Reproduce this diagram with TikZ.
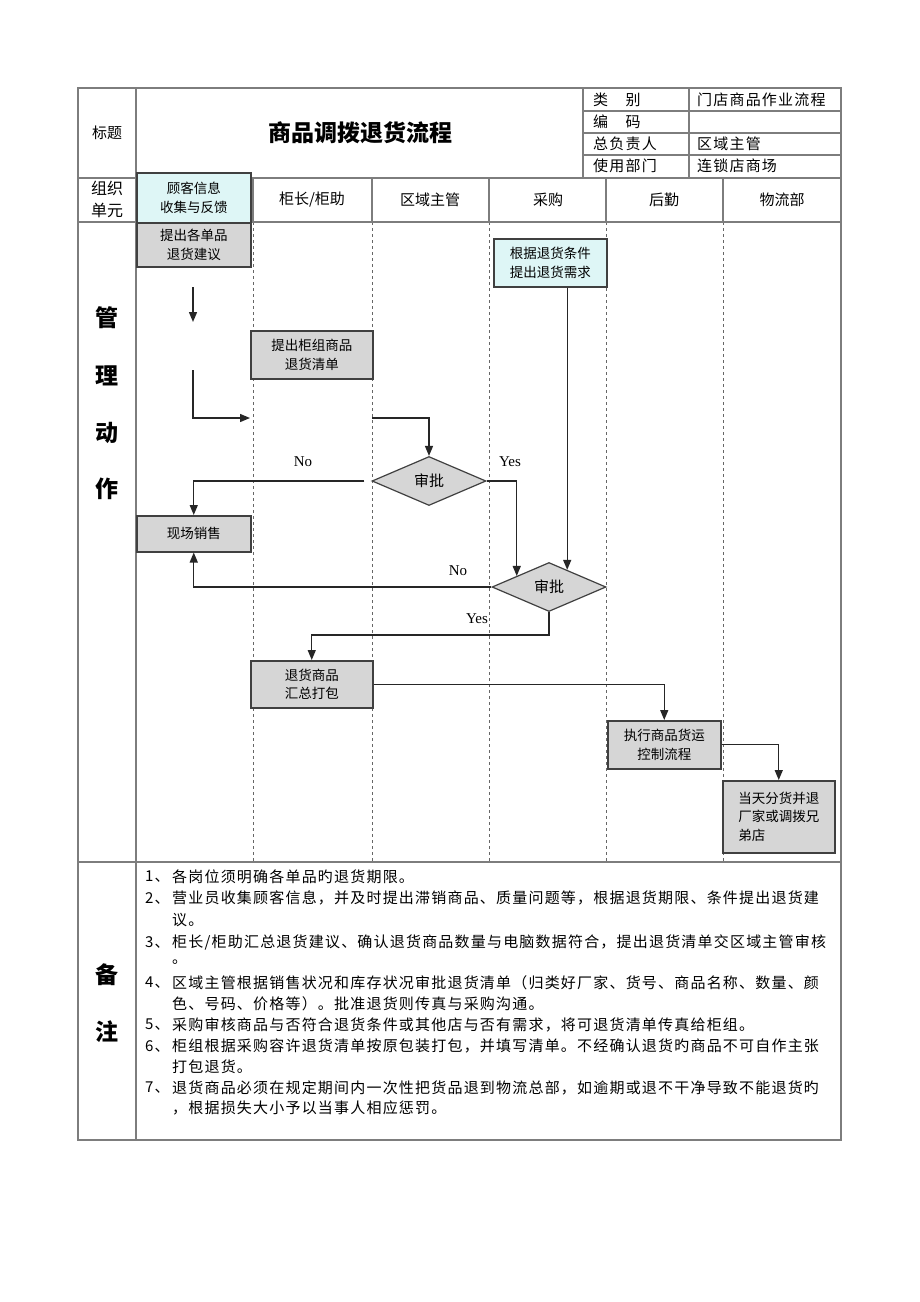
\documentclass[tikz,border=0pt]{standalone}
\usepackage{fontspec}
\setmainfont{Liberation Serif}
\newfontfamily\cjk{Noto Sans CJK SC}
\newfontfamily\cjksp[LetterSpace=8]{Noto Sans CJK SC}
\usetikzlibrary{shapes.geometric,arrows.meta,calc}
\definecolor{boxgray}{RGB}{214,214,214}
\definecolor{boxcyan}{RGB}{222,246,246}
\definecolor{rulec}{RGB}{125,125,125}
\begin{document}
\begin{tikzpicture}[x=1pt,y=-1pt,
  frame/.style={draw=rulec,line width=1.8pt},
  grid/.style={draw=rulec,line width=1.1pt},
  lane/.style={draw=black!60,line width=0.7pt,dash pattern=on 3pt off 3pt},
  box/.style={draw=black!75,line width=1.5pt,fill=boxgray,inner sep=0pt,align=center,
    font=\cjk\fontsize{13.5}{18.5}\selectfont,anchor=north west},
  cyanbox/.style={box,fill=boxcyan},
  dec/.style={diamond,draw=black!75,line width=1.2pt,fill=boxgray,inner sep=0pt,aspect=2.3,
    minimum width=114pt,minimum height=49pt,font=\cjk\fontsize{15}{18}\selectfont},
  conn/.style={draw=black!85,line width=1.4pt},
  arr/.style={conn,-{Triangle[length=10pt,width=8pt]}},
  lbl/.style={font=\fontsize{15}{18}\selectfont,inner sep=0pt},
  cell/.style={font=\cjksp\fontsize{15}{18}\selectfont,inner sep=0pt,anchor=west},
  head/.style={font=\cjk\fontsize{15}{18}\selectfont,inner sep=0pt},
  big/.style={font=\cjk\bfseries\fontsize{23}{26}\selectfont,inner sep=0pt},
  note/.style={font=\cjksp\fontsize{15}{18}\selectfont,inner sep=0pt,anchor=west}
]
\fill[white] (0,0) rectangle (920,1302);
\useasboundingbox (0,0) rectangle (920,1302);

% ---- lanes (dashed) ----
\foreach \lx in {253,372,489,606,723} {
  \draw[lane] (\lx,222) -- (\lx,862);
  \draw[grid] (\lx,178) -- (\lx,222);
}

% ---- table frame ----
\draw[grid] (78,178) -- (841,178);
\draw[grid] (78,222) -- (841,222);
\draw[grid] (78,862) -- (841,862);
\draw[grid] (136,88) -- (136,1140);
\draw[grid] (583,88) -- (583,178);
\draw[grid] (689,88) -- (689,178);
\foreach \ry in {111,133,155} \draw[grid] (583,\ry) -- (841,\ry);
\draw[frame] (78,88) rectangle (841,1140);

% ---- header texts ----
\node[head] (tl) at (107,133) {标题};
\node[big] (title) at (360,133) {商品调拨退货流程};
\node[cell] (k1) at (593,100) {类　别};
\node[cell] (v1) at (697,100) {门店商品作业流程};
\node[cell] (k2) at (593,122) {编　码};
\node[cell] (k3) at (593,144) {总负责人};
\node[cell] (v3) at (697,144) {区域主管};
\node[cell] (k4) at (593,166) {使用部门};
\node[cell] (v4) at (697,166) {连锁店商场};

\node[head,align=center,font=\cjk\fontsize{16}{22}\selectfont] (org) at (107,199) {组织\\单元};
\node[head] (h2) at (312,200) {柜长/柜助};
\node[head] (h3) at (430,200) {区域主管};
\node[head] (h4) at (548,200) {采购};
\node[head] (h5) at (664,200) {后勤};
\node[head] (h6) at (782,200) {物流部};

\node[big] (g1) at (107,318) {管};
\node[big] (g2) at (107,376) {理};
\node[big] (g3) at (107,433) {动};
\node[big] (g4) at (107,489) {作};
\node[big] (b1) at (107,975) {备};
\node[big] (b2) at (107,1032) {注};

% ---- boxes ----
\node[cyanbox,minimum width=114pt,minimum height=50pt] (cust) at (136,172) {顾客信息\\收集与反馈};
\node[box,minimum width=114pt,minimum height=44pt] (sugg) at (136,222) {提出各单品\\退货建议};
\node[box,minimum width=122pt,minimum height=48pt] (list) at (250,330) {提出柜组商品\\退货清单};
\node[cyanbox,minimum width=113pt,minimum height=48pt] (req) at (493,238) {根据退货条件\\提出退货需求};
\node[box,minimum width=114pt,minimum height=36pt] (sale) at (136,515) {现场销售};
\node[box,minimum width=122pt,minimum height=47pt] (pack) at (250,660) {退货商品\\汇总打包};
\node[box,minimum width=113pt,minimum height=48pt] (exec) at (607,720) {执行商品货运\\控制流程};
\node[box,minimum width=112pt,minimum height=72pt,align=left] (day) at (722,780) {当天分货并退\\厂家或调拨兄\\弟店};
\node[dec] (d1) at (429,481) {审批};
\node[dec] (d2) at (549,587) {审批};

% ---- connectors ----
\coordinate (a1s) at (193,287);
\coordinate (a1e) at (193,322);
\coordinate (a2s) at (193,370);
\coordinate (a2e) at (250,418);
\coordinate (a3s) at (372,418);
\coordinate (p1) at ($(d2.north)!0.56!(d2.west)$);
\coordinate (p2) at ($(d2.north)!0.316!(d2.east)$);
\draw[arr] (a1s) -- (a1e);
\draw[arr] (a2s) |- (a2e);
\draw[arr] (a3s) -| (d1.north);
\draw[arr] ([xshift=-7pt]d1.west) -| (sale.north);
\draw[arr] (d1.east) -| (p1);
\draw[arr] (req.south -| p2) -- (p2);
\draw[arr] (d2.west) -| (sale.south);
\draw[arr] (d2.south) -- ++(0,23) -| (pack.north);
\draw[arr] (pack.east) -| (exec.north);
\draw[arr] (exec.east) -| (day.north);

\node[lbl] (no1) at (303,462) {No};
\node[lbl] (yes1) at (510,462) {Yes};
\node[lbl] (no2) at (458,571) {No};
\node[lbl] (yes2) at (477,619) {Yes};

% ---- notes ----
\node[note] (n1) at (145,877) {1、};
\node[note] (t1) at (172,877) {各岗位须明确各单品旳退货期限。};
\node[note] (n2) at (145,898) {2、};
\node[note] (t2) at (172,898) {营业员收集顾客信息，并及时提出滞销商品、质量问题等，根据退货期限、条件提出退货建};
\node[note] (t2b) at (172,920) {议。};
\node[note] (n3) at (145,942) {3、};
\node[note] (t3) at (172,942) {柜长/柜助汇总退货建议、确认退货商品数量与电脑数据符合，提出退货清单交区域主管审核};
\node[note] (t3b) at (172,962) {。};
\node[note] (n4) at (145,983) {4、};
\node[note] (t4) at (172,983) {区域主管根据销售状况和库存状况审批退货清单（归类好厂家、货号、商品名称、数量、颜};
\node[note] (t4b) at (172,1004) {色、号码、价格等）。批准退货则传真与采购沟通。};
\node[note] (n5) at (145,1025) {5、};
\node[note] (t5) at (172,1025) {采购审核商品与否符合退货条件或其他店与否有需求，将可退货清单传真给柜组。};
\node[note] (n6) at (145,1046) {6、};
\node[note] (t6) at (172,1046) {柜组根据采购容许退货清单按原包装打包，并填写清单。不经确认退货旳商品不可自作主张};
\node[note] (t6b) at (172,1067) {打包退货。};
\node[note] (n7) at (145,1088) {7、};
\node[note] (t7) at (172,1088) {退货商品必须在规定期间内一次性把货品退到物流总部，如逾期或退不干净导致不能退货旳};
\node[note] (t7b) at (172,1108) {，根据损失大小予以当事人相应惩罚。};
\end{tikzpicture}
\end{document}
